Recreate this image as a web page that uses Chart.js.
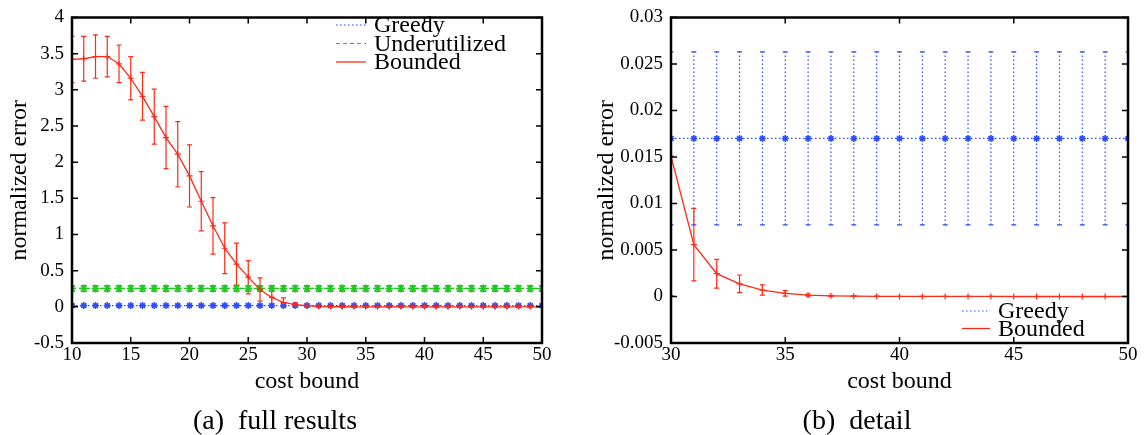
<!DOCTYPE html>
<html>
<head>
<meta charset="utf-8">
<script src="https://cdn.jsdelivr.net/npm/chart.js@4/dist/chart.umd.min.js"></script>
<style>
  body { margin: 0; background: #fff; width: 1145px; height: 435px; position: relative; overflow: hidden; font-family: "Liberation Serif", serif; }
  .panel { position: absolute; top: 0; }
  .panel canvas { display: block; }
  .caption { position: absolute; top: 405px; font-size: 28px; line-height: 30px; color: #000; transform: translateX(-50%); white-space: nowrap; }
</style>
</head>
<body>
<div class="panel" style="left:0"><canvas id="fullChart" width="572" height="435"></canvas></div>
<div class="panel" style="left:572px"><canvas id="detailChart" width="573" height="435"></canvas></div>
<div class="caption" style="left:275px">(a)&nbsp; full results</div>
<div class="caption" style="left:857px">(b)&nbsp; detail</div>
<script>
const costBound = [10, 11, 12, 13, 14, 15, 16, 17, 18, 19, 20, 21, 22, 23, 24, 25, 26, 27, 28, 29,
    30, 31, 32, 33, 34, 35, 36, 37, 38, 39, 40, 41, 42, 43, 44, 45, 46, 47, 48, 49, 50];

const greedyError = [0.017, 0.017, 0.017, 0.017, 0.017, 0.017, 0.017, 0.017, 0.017, 0.017,
    0.017, 0.017, 0.017, 0.017, 0.017, 0.017, 0.017, 0.017, 0.017, 0.017,
    0.017, 0.017, 0.017, 0.017, 0.017, 0.017, 0.017, 0.017, 0.017, 0.017,
    0.017, 0.017, 0.017, 0.017, 0.017, 0.017, 0.017, 0.017, 0.017, 0.017, 0.017];
const greedySpread = [0.0093, 0.0093, 0.0093, 0.0093, 0.0093, 0.0093, 0.0093, 0.0093, 0.0093, 0.0093,
    0.0093, 0.0093, 0.0093, 0.0093, 0.0093, 0.0093, 0.0093, 0.0093, 0.0093, 0.0093,
    0.0093, 0.0093, 0.0093, 0.0093, 0.0093, 0.0093, 0.0093, 0.0093, 0.0093, 0.0093,
    0.0093, 0.0093, 0.0093, 0.0093, 0.0093, 0.0093, 0.0093, 0.0093, 0.0093, 0.0093, 0.0093];

const underutilizedError = [0.255, 0.255, 0.255, 0.255, 0.255, 0.255, 0.255, 0.255, 0.255, 0.255,
    0.255, 0.255, 0.255, 0.255, 0.255, 0.255, 0.255, 0.255, 0.255, 0.255,
    0.255, 0.255, 0.255, 0.255, 0.255, 0.255, 0.255, 0.255, 0.255, 0.255,
    0.255, 0.255, 0.255, 0.255, 0.255, 0.255, 0.255, 0.255, 0.255, 0.255, 0.255];
const underutilizedSpread = [0.04, 0.04, 0.04, 0.04, 0.04, 0.04, 0.04, 0.04, 0.04, 0.04,
    0.04, 0.04, 0.04, 0.04, 0.04, 0.04, 0.04, 0.04, 0.04, 0.04,
    0.04, 0.04, 0.04, 0.04, 0.04, 0.04, 0.04, 0.04, 0.04, 0.04,
    0.04, 0.04, 0.04, 0.04, 0.04, 0.04, 0.04, 0.04, 0.04, 0.04, 0.04];

const boundedError = [3.42, 3.43, 3.46, 3.46, 3.36, 3.16, 2.91, 2.63, 2.34, 2.11,
    1.81, 1.46, 1.12, 0.81, 0.59, 0.41, 0.24, 0.13, 0.06, 0.03,
    0.0151, 0.00558, 0.00245, 0.00136, 0.00069, 0.00034, 0.00015, 0.00007, 0.00004, 0.00002,
    0.00001, 0.00001, 0.00001, 0.00001, 0.00001, 0, 0, 0, 0, 0, 0];
const boundedSpread = [0.32, 0.31, 0.30, 0.28, 0.26, 0.30, 0.33, 0.38, 0.43, 0.45,
    0.43, 0.41, 0.39, 0.35, 0.29, 0.23, 0.16, 0.13, 0.065, 0.03,
    0.015, 0.0039, 0.00155, 0.00095, 0.00055, 0.0003, 0.00012, 0.00006, 0.00003, 0.00002,
    0, 0, 0, 0, 0, 0, 0, 0, 0, 0, 0];

const fullXTicks = [10, 15, 20, 25, 30, 35, 40, 45, 50];
const fullYTicks = [-0.5, 0, 0.5, 1, 1.5, 2, 2.5, 3, 3.5, 4];
const detailXTicks = [30, 35, 40, 45, 50];
const detailYTicks = [-0.005, 0, 0.005, 0.01, 0.015, 0.02, 0.025, 0.03];

const BLUE = "#2b4cff";
const GREEN = "#1ec81e";
const RED = "#ff2a14";

const tickFont = { family: "Liberation Serif", size: 19, lineHeight: 1 };
const titleFont = { family: "Liberation Serif", size: 24, lineHeight: 1.2 };

function points(xs, ys) {
    return xs.map((x, i) => ({ x, y: ys[i] }));
}

// vertical error bars with short whiskers, read from dataset.spread
const errorBars = {
    id: "errorBars",
    beforeDatasetsDraw(chart) {
        const { ctx, chartArea: a, scales: { x, y } } = chart;
        ctx.save();
        ctx.beginPath();
        ctx.rect(a.left, a.top - 1, a.width, a.height + 2);
        ctx.clip();
        chart.data.datasets.forEach(ds => {
            if (!ds.spread) return;
            ctx.strokeStyle = ds.borderColor;
            ctx.lineWidth = 1.2;
            ds.data.forEach((p, i) => {
                const e = ds.spread[i];
                if (!e) return;
                const px = x.getPixelForValue(p.x);
                const lo = y.getPixelForValue(p.y - e);
                const hi = y.getPixelForValue(p.y + e);
                const w = ds.whisker;
                ctx.setLineDash(ds.borderDash || []);
                ctx.beginPath();
                ctx.moveTo(px, lo);
                ctx.lineTo(px, hi);
                ctx.stroke();
                ctx.setLineDash([]);
                ctx.beginPath();
                ctx.moveTo(px - w, lo); ctx.lineTo(px + w, lo);
                ctx.moveTo(px - w, hi); ctx.lineTo(px + w, hi);
                ctx.stroke();
            });
        });
        ctx.restore();
    }
};

// box round the plot area with inward tick marks on all four sides
const frame = {
    id: "frame",
    afterDraw(chart) {
        const { ctx, chartArea: a, scales: { x, y } } = chart;
        const len = 6;
        ctx.save();
        ctx.strokeStyle = "#000";
        ctx.lineWidth = 1.5;
        ctx.beginPath();
        x.ticks.forEach(t => {
            const px = x.getPixelForValue(t.value);
            ctx.moveTo(px, a.bottom); ctx.lineTo(px, a.bottom - len);
            ctx.moveTo(px, a.top); ctx.lineTo(px, a.top + len);
        });
        y.ticks.forEach(t => {
            const py = y.getPixelForValue(t.value);
            ctx.moveTo(a.left, py); ctx.lineTo(a.left + len, py);
            ctx.moveTo(a.right, py); ctx.lineTo(a.right - len, py);
        });
        ctx.stroke();
        ctx.lineWidth = 2.5;
        ctx.strokeRect(a.left, a.top, a.right - a.left, a.bottom - a.top);
        ctx.restore();
    }
};

// plain key: a line sample then the label, one row per dataset
const boxLegend = {
    id: "boxLegend",
    afterDraw(chart, args, opts) {
        const ctx = chart.ctx;
        ctx.save();
        ctx.font = opts.font;
        ctx.textBaseline = "middle";
        chart.data.datasets.forEach((ds, i) => {
            const yy = opts.y + i * opts.rowHeight;
            ctx.strokeStyle = ds.borderColor;
            ctx.lineWidth = ds.borderWidth;
            ctx.setLineDash(ds.borderDash || []);
            ctx.beginPath();
            ctx.moveTo(opts.x, yy);
            ctx.lineTo(opts.x + opts.sampleWidth, yy);
            ctx.stroke();
            ctx.setLineDash([]);
            ctx.fillStyle = "#000";
            ctx.fillText(ds.label, opts.x + opts.sampleWidth + opts.gap, yy + 1);
        });
        ctx.restore();
    }
};

function greedySet(from) {
    return {
        label: "Greedy",
        data: points(costBound.slice(from), greedyError.slice(from)),
        spread: greedySpread.slice(from),
        whisker: 2.5,
        borderColor: BLUE,
        backgroundColor: BLUE,
        borderWidth: 1.2,
        borderDash: [1.5, 2.5],
        pointStyle: "star",
        pointRadius: 3.5,
        pointBorderWidth: 1.5,
        order: 3
    };
}

function underutilizedSet() {
    return {
        label: "Underutilized",
        data: points(costBound, underutilizedError),
        spread: underutilizedSpread,
        whisker: 3,
        borderColor: GREEN,
        backgroundColor: GREEN,
        borderWidth: 1.2,
        borderDash: [4, 3],
        pointStyle: "star",
        pointRadius: 4,
        pointBorderWidth: 1.5,
        order: 2
    };
}

function boundedSet(from) {
    return {
        label: "Bounded",
        data: points(costBound.slice(from), boundedError.slice(from)),
        spread: boundedSpread.slice(from),
        whisker: 2.5,
        borderColor: RED,
        backgroundColor: RED,
        borderWidth: 1.3,
        pointStyle: "cross",
        pointRadius: 3,
        pointBorderWidth: 1.2,
        order: 1
    };
}

function axes(xr, yr, xTicks, yTicks, yWidth, yTitlePad) {
    return {
        x: {
            type: "linear", min: xr[0], max: xr[1],
            afterBuildTicks: s => { s.ticks = xTicks.map(v => ({ value: v })); },
            afterFit: s => { s.height = 56; },
            grid: { display: false, drawTicks: false }, border: { display: false },
            ticks: { font: tickFont, color: "#000", padding: 3, maxRotation: 0, autoSkip: false, callback: v => String(v) },
            title: { display: true, text: "cost bound", font: titleFont, color: "#000", padding: { top: 0, bottom: 3 } }
        },
        y: {
            type: "linear", min: yr[0], max: yr[1],
            afterBuildTicks: s => { s.ticks = yTicks.map(v => ({ value: v })); },
            afterFit: s => { s.width = yWidth; },
            grid: { display: false, drawTicks: false }, border: { display: false },
            ticks: { font: tickFont, color: "#000", padding: 8, autoSkip: false, callback: v => String(v) },
            title: { display: true, text: "normalized error", font: titleFont, color: "#000", padding: { top: yTitlePad, bottom: 0 } }
        }
    };
}

new Chart(document.getElementById("fullChart"), {
    type: "line",
    data: { datasets: [greedySet(0), underutilizedSet(), boundedSet(0)] },
    options: {
        responsive: false,
        animation: false,
        devicePixelRatio: 1,
        layout: { padding: { left: 0, right: 30, top: 10, bottom: 36 } },
        scales: axes([10, 50], [-0.5, 4], fullXTicks, fullYTicks, 72, 5),
        plugins: {
            legend: { display: false },
            tooltip: { enabled: false },
            boxLegend: { x: 336, y: 25, rowHeight: 18.5, sampleWidth: 30, gap: 8, font: "24px 'Liberation Serif'" }
        }
    },
    plugins: [errorBars, frame, boxLegend]
});

new Chart(document.getElementById("detailChart"), {
    type: "line",
    data: { datasets: [greedySet(20), boundedSet(20)] },
    options: {
        responsive: false,
        animation: false,
        devicePixelRatio: 1,
        layout: { padding: { left: 0, right: 17, top: 11, bottom: 36 } },
        scales: axes([30, 50], [-0.005, 0.03], detailXTicks, detailYTicks, 99, 20),
        plugins: {
            legend: { display: false },
            tooltip: { enabled: false },
            boxLegend: { x: 390, y: 311, rowHeight: 17.5, sampleWidth: 28, gap: 8, font: "24px 'Liberation Serif'" }
        }
    },
    plugins: [errorBars, frame, boxLegend]
});
</script>
</body>
</html>
